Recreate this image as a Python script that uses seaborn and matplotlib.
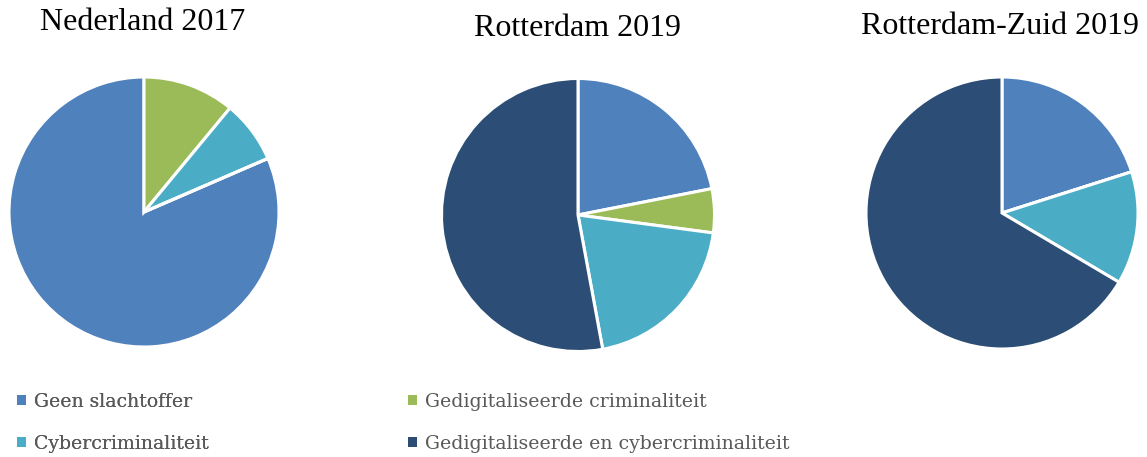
import matplotlib
matplotlib.use("Agg")
import matplotlib.pyplot as plt
import seaborn as sns
from matplotlib.patches import Patch

sns.set_theme(style="white")
plt.rcParams['font.family'] = ['DejaVu Serif']

categories = ["Geen slachtoffer", "Gedigitaliseerde criminaliteit",
              "Cybercriminaliteit", "Gedigitaliseerde en cybercriminaliteit"]
colors = ["#4F81BD", "#9BBB59", "#4BACC6", "#2C4D75"]

titles = ["Nederland 2017", "Rotterdam 2019", "Rotterdam-Zuid 2019"]
nederland_2017 = [81.5, 11.0, 7.5, 0.0]
rotterdam_2019 = [21.9, 5.2, 20.0, 52.9]
rotterdam_zuid_2019 = [20.1, 0.0, 13.4, 66.5]
series = [nederland_2017, rotterdam_2019, rotterdam_zuid_2019]

W, H = 1147, 457
fig = plt.figure(figsize=(W / 100, H / 100), dpi=100)

# pie centres / radii in pixels, first-slice angle (mpl degrees)
geom = [(144, 212, 135, 90 - 66.6), (578, 215, 136.5, 90), (1002, 213, 136, 90)]
title_pos = [(143, 22), (577, 28), (1000, 27)]

for vals, (cx, cy, r, start), title, (tx, ty) in zip(series, geom, titles, title_pos):
    ax = fig.add_axes([(cx - r) / W, 1 - (cy + r) / H, 2 * r / W, 2 * r / H])
    ax.pie(vals, colors=colors, startangle=start, counterclock=False,
           radius=1, wedgeprops=dict(edgecolor="white", linewidth=2.2))
    ax.set_xlim(-1, 1)
    ax.set_ylim(-1, 1)
    ax.set_axis_off()
    fig.text(tx / W, 1 - ty / H, title, ha="center", va="center",
             fontsize=23, family=["Liberation Serif"], color="black")

handles = [Patch(facecolor=c, edgecolor="none") for c in colors]
leg_kw = dict(frameon=False, fontsize=13.6, handlelength=0.45, handleheight=0.45,
              handletextpad=0.45, labelspacing=1.27, borderpad=0, borderaxespad=0,
              labelcolor="#595959", loc="upper left")
leg1 = fig.legend([handles[0], handles[2]], [categories[0], categories[2]],
                  bbox_to_anchor=(17 / W, 1 - 393 / H), **leg_kw)
fig.add_artist(leg1)
leg2 = fig.legend([handles[1], handles[3]], [categories[1], categories[3]],
                  bbox_to_anchor=(408 / W, 1 - 393 / H), **leg_kw)

fig.savefig("out.png", dpi=100, facecolor="white")
